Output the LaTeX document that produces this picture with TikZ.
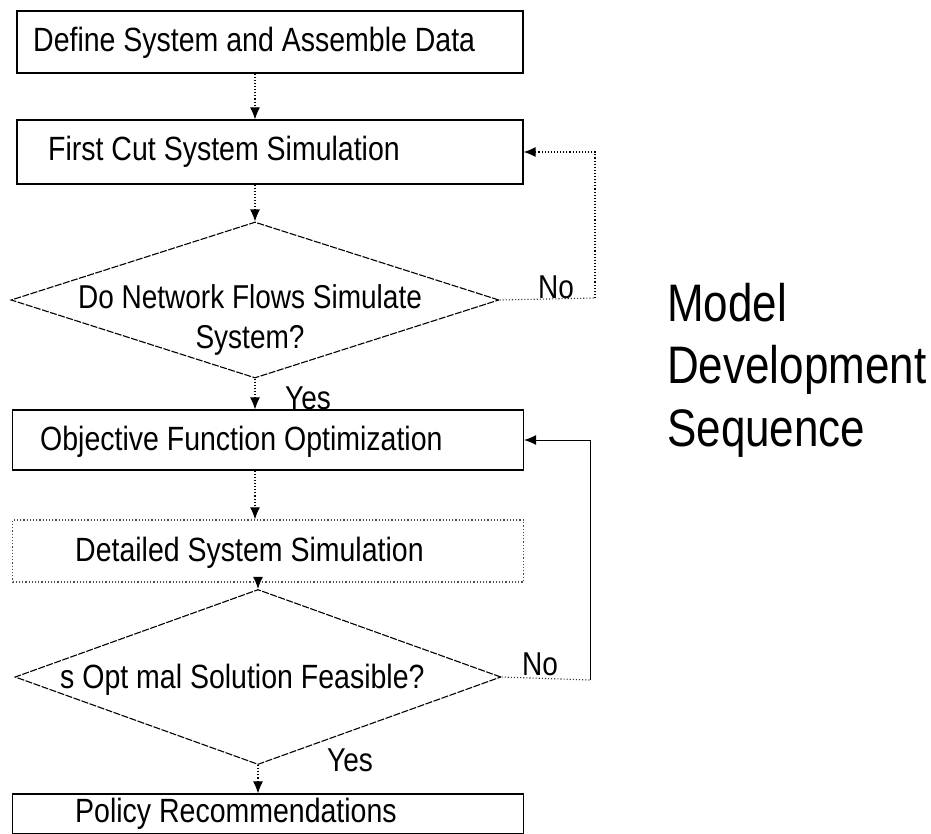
\documentclass[tikz,border=0pt]{standalone}
\usepackage{fontspec}
\setmainfont{Liberation Sans}
\usetikzlibrary{shapes.geometric,arrows.meta,calc}
\begin{document}
\begin{tikzpicture}[x=1pt,y=1pt,
  box/.style={draw=black, line width=1.2pt, minimum width=506pt, inner sep=0pt},
  dotbox/.style={box, draw=black!70, dotted, line width=1.4pt},
  lbl/.style={font=\fontsize{28.5}{32}\selectfont, anchor=west, inner sep=0pt, yscale=1.18, transform shape},
  dia/.style={diamond, draw=black, line width=1.1pt, dash pattern=on 7pt off 1.5pt, inner sep=0pt},
  conn/.style={draw=black, line width=1.1pt, dotted, -{Latex[length=12pt,width=10pt]}},
  fb/.style={draw=black!80, line width=1.1pt, dotted},
  yn/.style={font=\fontsize{28}{32}\selectfont, inner sep=0pt, yscale=1.18, transform shape},
  title/.style={font=\fontsize{44}{52}\selectfont, align=left, anchor=north west, inner sep=0pt, yscale=1.2, transform shape}
]
\useasboundingbox[fill=white] (0,0) rectangle (931,-833);

% boxes
\node[box, minimum height=62pt] (b1) at (270,-42) {};
\node[lbl] (t1) at (33,-43) {Define System and Assemble Data};
\node[box, minimum height=64pt] (b2) at (270,-152) {};
\node[lbl] (t2) at (48,-152) {First Cut System Simulation};
\node[dia, minimum width=488pt, minimum height=156pt] (d1) at (255,-300) {};
\node[font=\fontsize{28}{34}\selectfont, align=center, inner sep=0pt, yscale=1.18, transform shape] (t3) at (250,-320) {Do Network Flows Simulate\\System?};
\node[box, minimum height=60pt, minimum width=511pt] (b3) at (268,-440) {};
\node[lbl] (t4) at (40,-442) {Objective Function Optimization};
\node[dotbox, minimum height=62pt, minimum width=511pt] (b4) at (268,-551) {};
\node[lbl] (t5) at (75,-553) {Detailed System Simulation};
\node[dia, minimum width=486pt, minimum height=175pt] (d2) at (258,-677) {};
\node[lbl] (t6) at (60,-680) {s Opt mal Solution Feasible?};
\node[box, minimum height=40pt, minimum width=511pt] (b5) at (268,-814) {};
\node[lbl] (t7) at (75,-814) {Policy Recommendations};

% main flow
\draw[conn] (b1.south -| d1.north) -- (b2.north -| d1.north);
\draw[conn] (b2.south -| d1.north) -- (d1.north);
\draw[conn] (d1.south) -- (b3.north -| d1.south);
\draw[conn] (b3.south -| d1.south) -- (b4.north -| d1.south);
\draw[conn] (b4.south -| d2.north) -- (d2.north);
\draw[conn] (d2.south) -- (b5.north -| d2.south);

% feedback loops
\coordinate (c1) at (595,-298);
\coordinate (c2) at (590,-680);
\draw[fb] (d1.east) -- (c1);
\draw[conn] (c1) |- (b2.east);
\draw[fb] (d2.east) -- (c2);
\draw[conn, solid, line width=0.9pt] (c2) |- (b3.east);

% labels
\node[yn] (no1) at (556,-287) {No};
\node[yn] (yes1) at (308,-398) {Yes};
\node[yn] (no2) at (540,-664) {No};
\node[yn] (yes2) at (350,-760) {Yes};

\node[title] (ttl) at (667,-283) {Model\\Development\\Sequence};
\end{tikzpicture}
\end{document}
